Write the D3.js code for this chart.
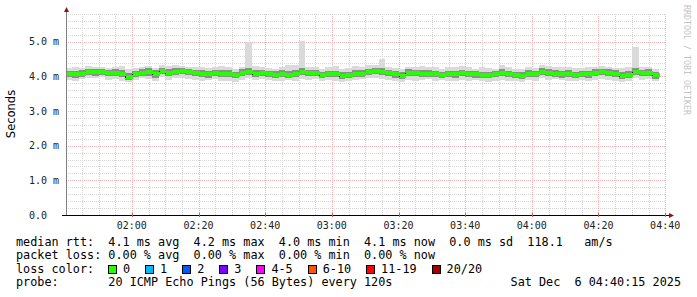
<!DOCTYPE html>
<html>
<head>
<meta charset="utf-8">
<script src="https://cdn.jsdelivr.net/npm/d3@7"></script>
<style>
  body { margin: 0; background: #fff; }
  svg { display: block; }
  text { font-family: "DejaVu Sans Mono", monospace; fill: #000; }
</style>
</head>
<body>
<svg></svg>
<script>
// SmokePing style latency graph, 3 hours of 2 minute steps

const width = 697;
const height = 297;
const plot = { left: 66, right: 666, top: 14, bottom: 215 };

const firstStep = "2025-12-06T01:40:00";
const stepSeconds = 120;
const viewStart = "2025-12-06T01:40:15";
const viewEnd = "2025-12-06T04:40:15";

// values in ms
const median = [
  4.06, 4.06, 4.07, 4.12, 4.12, 4.13, 4.09, 4.10, 4.07, 3.99,
  4.06, 4.11, 4.12, 4.06, 4.16, 4.10, 4.14, 4.15, 4.12, 4.10,
  4.08, 4.06, 4.09, 4.08, 4.08, 4.03, 4.10, 4.12, 4.08, 4.09,
  4.06, 4.05, 4.06, 4.05, 4.08, 4.14, 4.10, 4.09, 4.05, 4.06,
  4.06, 4.02, 4.04, 4.08, 4.08, 4.12, 4.15, 4.12, 4.09, 4.06,
  4.02, 4.10, 4.09, 4.08, 4.08, 4.06, 4.05, 4.06, 4.06, 4.09,
  4.06, 4.06, 4.04, 4.04, 4.06, 4.10, 4.06, 4.04, 4.02, 4.08,
  4.06, 4.13, 4.10, 4.08, 4.06, 4.08, 4.04, 4.06, 4.06, 4.10,
  4.12, 4.10, 4.07, 4.02, 4.05, 4.14, 4.09, 4.10, 4.03,
];
const pingMax = [
  4.24, 4.26, 4.23, 4.30, 4.28, 4.27, 4.24, 4.28, 4.30, 4.20,
  4.24, 4.28, 4.30, 4.24, 4.32, 4.30, 4.33, 4.31, 4.28, 4.26,
  4.27, 4.24, 4.26, 4.30, 4.28, 4.22, 4.28, 5.00, 4.30, 4.28,
  4.25, 4.22, 4.28, 4.34, 4.32, 5.02, 4.28, 4.26, 4.22, 4.28,
  4.30, 4.20, 4.24, 4.30, 4.28, 4.33, 4.32, 4.50, 4.28, 4.25,
  4.22, 4.28, 4.26, 4.30, 4.26, 4.28, 4.22, 4.26, 4.28, 4.30,
  4.26, 4.22, 4.28, 4.25, 4.22, 4.32, 4.26, 4.22, 4.20, 4.28,
  4.25, 4.33, 4.30, 4.26, 4.28, 4.26, 4.23, 4.25, 4.28, 4.26,
  4.30, 4.28, 4.24, 4.25, 4.28, 4.85, 4.28, 4.26, 4.22,
];
const pingMin = [
  3.90, 3.88, 3.92, 3.95, 3.94, 3.97, 3.90, 3.92, 3.88, 3.84,
  3.90, 3.94, 3.93, 3.88, 3.98, 3.90, 3.94, 3.96, 3.93, 3.90,
  3.88, 3.90, 3.92, 3.88, 3.86, 3.85, 3.90, 3.95, 3.90, 3.92,
  3.90, 3.86, 3.88, 3.90, 3.86, 3.93, 3.90, 3.92, 3.88, 3.90,
  3.88, 3.84, 3.86, 3.90, 3.92, 3.95, 3.96, 3.93, 3.90, 3.88,
  3.84, 3.90, 3.88, 3.90, 3.92, 3.88, 3.90, 3.86, 3.88, 3.90,
  3.88, 3.90, 3.86, 3.84, 3.88, 3.90, 3.88, 3.86, 3.84, 3.90,
  3.88, 3.95, 3.90, 3.92, 3.90, 3.88, 3.86, 3.90, 3.88, 3.90,
  3.93, 3.90, 3.88, 3.84, 3.88, 3.95, 3.90, 3.92, 3.88,
];
const pingLow = [
  3.97, 3.96, 3.98, 4.03, 4.02, 4.04, 4.00, 4.01, 3.97, 3.90,
  3.97, 4.02, 4.02, 3.96, 4.07, 4.01, 4.05, 4.06, 4.03, 4.01,
  3.99, 3.96, 4.00, 3.99, 3.98, 3.94, 4.01, 4.03, 3.99, 4.00,
  3.97, 3.95, 3.97, 3.96, 3.98, 4.05, 4.01, 4.00, 3.95, 3.97,
  3.97, 3.92, 3.95, 3.99, 3.98, 4.03, 4.06, 4.03, 4.00, 3.96,
  3.92, 4.01, 4.00, 3.99, 3.98, 3.97, 3.95, 3.97, 3.96, 4.00,
  3.97, 3.96, 3.95, 3.94, 3.97, 4.01, 3.97, 3.95, 3.92, 3.99,
  3.97, 4.04, 4.01, 3.99, 3.96, 3.99, 3.94, 3.97, 3.96, 4.01,
  4.03, 4.01, 3.97, 3.92, 3.96, 4.05, 4.00, 4.01, 3.93,
];
const pingHigh = [
  4.16, 4.15, 4.17, 4.22, 4.21, 4.22, 4.19, 4.20, 4.18, 4.09,
  4.16, 4.20, 4.23, 4.17, 4.25, 4.20, 4.23, 4.24, 4.22, 4.19,
  4.18, 4.15, 4.19, 4.18, 4.17, 4.13, 4.20, 4.23, 4.18, 4.19,
  4.16, 4.15, 4.17, 4.16, 4.19, 4.24, 4.19, 4.19, 4.14, 4.16,
  4.16, 4.12, 4.14, 4.18, 4.17, 4.22, 4.25, 4.23, 4.19, 4.16,
  4.12, 4.20, 4.19, 4.18, 4.17, 4.16, 4.14, 4.16, 4.16, 4.19,
  4.16, 4.15, 4.14, 4.14, 4.15, 4.20, 4.16, 4.14, 4.12, 4.18,
  4.16, 4.23, 4.20, 4.18, 4.16, 4.18, 4.14, 4.15, 4.16, 4.20,
  4.22, 4.20, 4.17, 4.12, 4.15, 4.24, 4.19, 4.20, 4.13,
];

const yTicks = [0, 1, 2, 3, 4, 5];
const yTickLabels = ["0.0", "1.0 m", "2.0 m", "3.0 m", "4.0 m", "5.0 m"];

const lossLabels = ["0", "1", "2", "3", "4-5", "6-10", "11-19", "20/20"];
const lossColors = ["#26ff00", "#00b8ff", "#0059ff", "#7e00ff", "#ff00ff", "#ff5500", "#ff0000", "#a00000"];

const legendRows = [
  "median rtt:  4.1 ms avg  4.2 ms max  4.0 ms min  4.1 ms now  0.0 ms sd  118.1   am/s",
  "packet loss: 0.00 % avg  0.00 % max  0.00 % min  0.00 % now",
  "loss color:",
  "probe:       20 ICMP Echo Pings (56 Bytes) every 120s",
];
const dateStamp = "Sat Dec  6 04:40:15 2025";

const t0 = new Date(firstStep).getTime();
const steps = median.map((m, i) => ({
  t: new Date(t0 + i * stepSeconds * 1000),
  t2: new Date(t0 + (i + 1) * stepSeconds * 1000),
  median: m,
  min: pingMin[i],
  max: pingMax[i],
  low: pingLow[i],
  high: pingHigh[i],
}));

const svg = d3.select("svg").attr("width", width).attr("height", height);
svg.append("rect").attr("width", width).attr("height", height).attr("fill", "#fff");

const x = d3.scaleTime()
  .domain([new Date(viewStart), new Date(viewEnd)])
  .range([plot.left, plot.right]);
const y = d3.scaleLinear()
  .domain([0, 5.8])
  .range([plot.bottom, plot.top]);

svg.append("clipPath").attr("id", "clip")
  .append("rect")
  .attr("x", plot.left).attr("y", plot.top)
  .attr("width", plot.right - plot.left).attr("height", plot.bottom - plot.top);

// grid
const grid = svg.append("g").attr("shape-rendering", "crispEdges");
const minorY = d3.range(1, 30).map((k) => k * 0.2).filter((v) => Math.abs(v - Math.round(v)) > 0.01);
grid.selectAll(".hminor").data(minorY).enter().append("line")
  .attr("x1", plot.left).attr("x2", plot.right)
  .attr("y1", (d) => Math.round(y(d)) + 0.5).attr("y2", (d) => Math.round(y(d)) + 0.5)
  .attr("stroke", "#d6d6d6").attr("stroke-dasharray", "1,1");

const minorX = x.ticks(d3.timeMinute.every(5)).filter((d) => d.getMinutes() % 20 !== 0);
grid.selectAll(".vminor").data(minorX).enter().append("line")
  .attr("x1", (d) => Math.round(x(d)) + 0.5).attr("x2", (d) => Math.round(x(d)) + 0.5)
  .attr("y1", plot.top).attr("y2", plot.bottom)
  .attr("stroke", "#d6d6d6").attr("stroke-dasharray", "1,1");

grid.selectAll(".hmajor").data(yTicks.slice(1)).enter().append("line")
  .attr("x1", plot.left).attr("x2", plot.right)
  .attr("y1", (d) => Math.round(y(d)) + 0.5).attr("y2", (d) => Math.round(y(d)) + 0.5)
  .attr("stroke", "#ecb4b4").attr("stroke-dasharray", "1,1");

const majorX = x.ticks(d3.timeMinute.every(20));
grid.selectAll(".vmajor").data(majorX).enter().append("line")
  .attr("x1", (d) => Math.round(x(d)) + 0.5).attr("x2", (d) => Math.round(x(d)) + 0.5)
  .attr("y1", plot.top).attr("y2", plot.bottom)
  .attr("stroke", "#ecb4b4").attr("stroke-dasharray", "1,1");

// smoke
const data = svg.append("g").attr("clip-path", "url(#clip)").attr("shape-rendering", "crispEdges");
data.selectAll(".smoke").data(steps).enter().append("rect")
  .attr("x", (d) => Math.round(x(d.t)))
  .attr("width", (d) => Math.round(x(d.t2)) - Math.round(x(d.t)))
  .attr("y", (d) => Math.round(y(d.max)))
  .attr("height", (d) => Math.round(y(d.min)) - Math.round(y(d.max)))
  .attr("fill", "#dadada");
data.selectAll(".core").data(steps).enter().append("rect")
  .attr("x", (d) => Math.round(x(d.t)))
  .attr("width", (d) => Math.round(x(d.t2)) - Math.round(x(d.t)))
  .attr("y", (d) => Math.round(y(d.high)))
  .attr("height", (d) => Math.max(1, Math.round(y(d.low)) - Math.round(y(d.high))))
  .attr("fill", "#8e8e8e");

// median line then loss colour band
const medLine = d3.line()
  .x((d) => Math.round(x(d[0])) + 0.5)
  .y((d) => Math.round(y(d[1])) + 0.5)
  .curve(d3.curveStepAfter);
const medPts = steps.map((d) => [d.t, d.median]);
medPts.push([steps[steps.length - 1].t2, median[median.length - 1]]);
data.append("path").datum(medPts)
  .attr("d", medLine)
  .attr("fill", "none").attr("stroke", "#202020").attr("stroke-width", 1);

data.selectAll(".loss").data(steps).enter().append("rect")
  .attr("x", (d) => Math.round(x(d.t)) + 1)
  .attr("width", (d) => Math.round(x(d.t2)) - Math.round(x(d.t)))
  .attr("y", (d) => Math.round(y(d.median)) - 2)
  .attr("height", 4)
  .attr("fill", lossColors[0]);

// axes
const axes = svg.append("g").attr("shape-rendering", "crispEdges");
axes.append("line")
  .attr("x1", plot.left + 0.5).attr("x2", plot.left + 0.5)
  .attr("y1", plot.bottom + 1).attr("y2", plot.top - 4)
  .attr("stroke", "#808080");
axes.append("line")
  .attr("x1", plot.left - 4).attr("x2", plot.right + 3)
  .attr("y1", plot.bottom + 0.5).attr("y2", plot.bottom + 0.5)
  .attr("stroke", "#000");
axes.selectAll(".xtick").data(majorX).enter().append("line")
  .attr("x1", (d) => Math.round(x(d)) + 0.5).attr("x2", (d) => Math.round(x(d)) + 0.5)
  .attr("y1", plot.bottom - 2).attr("y2", plot.bottom + 2)
  .attr("stroke", "#c06060");

svg.append("path")
  .attr("d", `M${plot.left + 0.5},${plot.top - 7} L${plot.left + 3},${plot.top - 2} L${plot.left - 2},${plot.top - 2} Z`)
  .attr("fill", "#8b1515");
svg.append("path")
  .attr("d", `M${plot.right + 8},${plot.bottom + 0.5} L${plot.right + 3},${plot.bottom - 2} L${plot.right + 3},${plot.bottom + 3} Z`)
  .attr("fill", "#8b1515");

// tick labels
svg.selectAll(".ylab").data(yTicks).enter().append("text")
  .attr("x", 29)
  .attr("y", (d) => y(d) + 3.6)
  .style("font-size", "10px")
  .style("fill", "#222")
  .text((d, i) => yTickLabels[i]);

svg.selectAll(".xlab").data(majorX.filter((d) => x(d) > plot.left + 10)).enter().append("text")
  .attr("x", (d) => x(d))
  .attr("y", 228.8)
  .attr("text-anchor", "middle")
  .style("font-size", "10px")
  .style("fill", "#222")
  .text((d) => d3.timeFormat("%H:%M")(d));

svg.append("text")
  .attr("transform", "translate(14.5,114) rotate(-90)")
  .attr("text-anchor", "middle")
  .style("font-family", "DejaVu Sans, sans-serif")
  .style("font-size", "11.5px")
  .text("Seconds");

svg.append("text")
  .attr("transform", "translate(684,5) rotate(90)")
  .style("font-size", "8.3px")
  .style("fill", "#c4c4c4")
  .text("RRDTOOL / TOBI OETIKER");

// legend
const rowY = [245.5, 259, 272.5, 286];
svg.selectAll(".legrow").data(legendRows).enter().append("text")
  .attr("x", 16)
  .attr("y", (d, i) => rowY[i])
  .attr("xml:space", "preserve")
  .style("white-space", "pre")
  .style("font-size", "11.8px")
  .text((d) => d);

svg.append("text")
  .attr("x", 681)
  .attr("y", rowY[3])
  .attr("text-anchor", "end")
  .attr("xml:space", "preserve")
  .style("white-space", "pre")
  .style("font-size", "11.8px")
  .text(dateStamp);

let boxX = 108;
lossLabels.forEach((label, i) => {
  svg.append("rect")
    .attr("x", boxX + 0.5).attr("y", 265.5)
    .attr("width", 8).attr("height", 8)
    .attr("fill", lossColors[i]).attr("stroke", "#000")
    .attr("shape-rendering", "crispEdges");
  svg.append("text")
    .attr("x", boxX + 15).attr("y", rowY[2])
    .style("font-size", "11.8px")
    .text(label);
  boxX += 16 + label.length * 7.1 + 14;
});
</script>
</body>
</html>
